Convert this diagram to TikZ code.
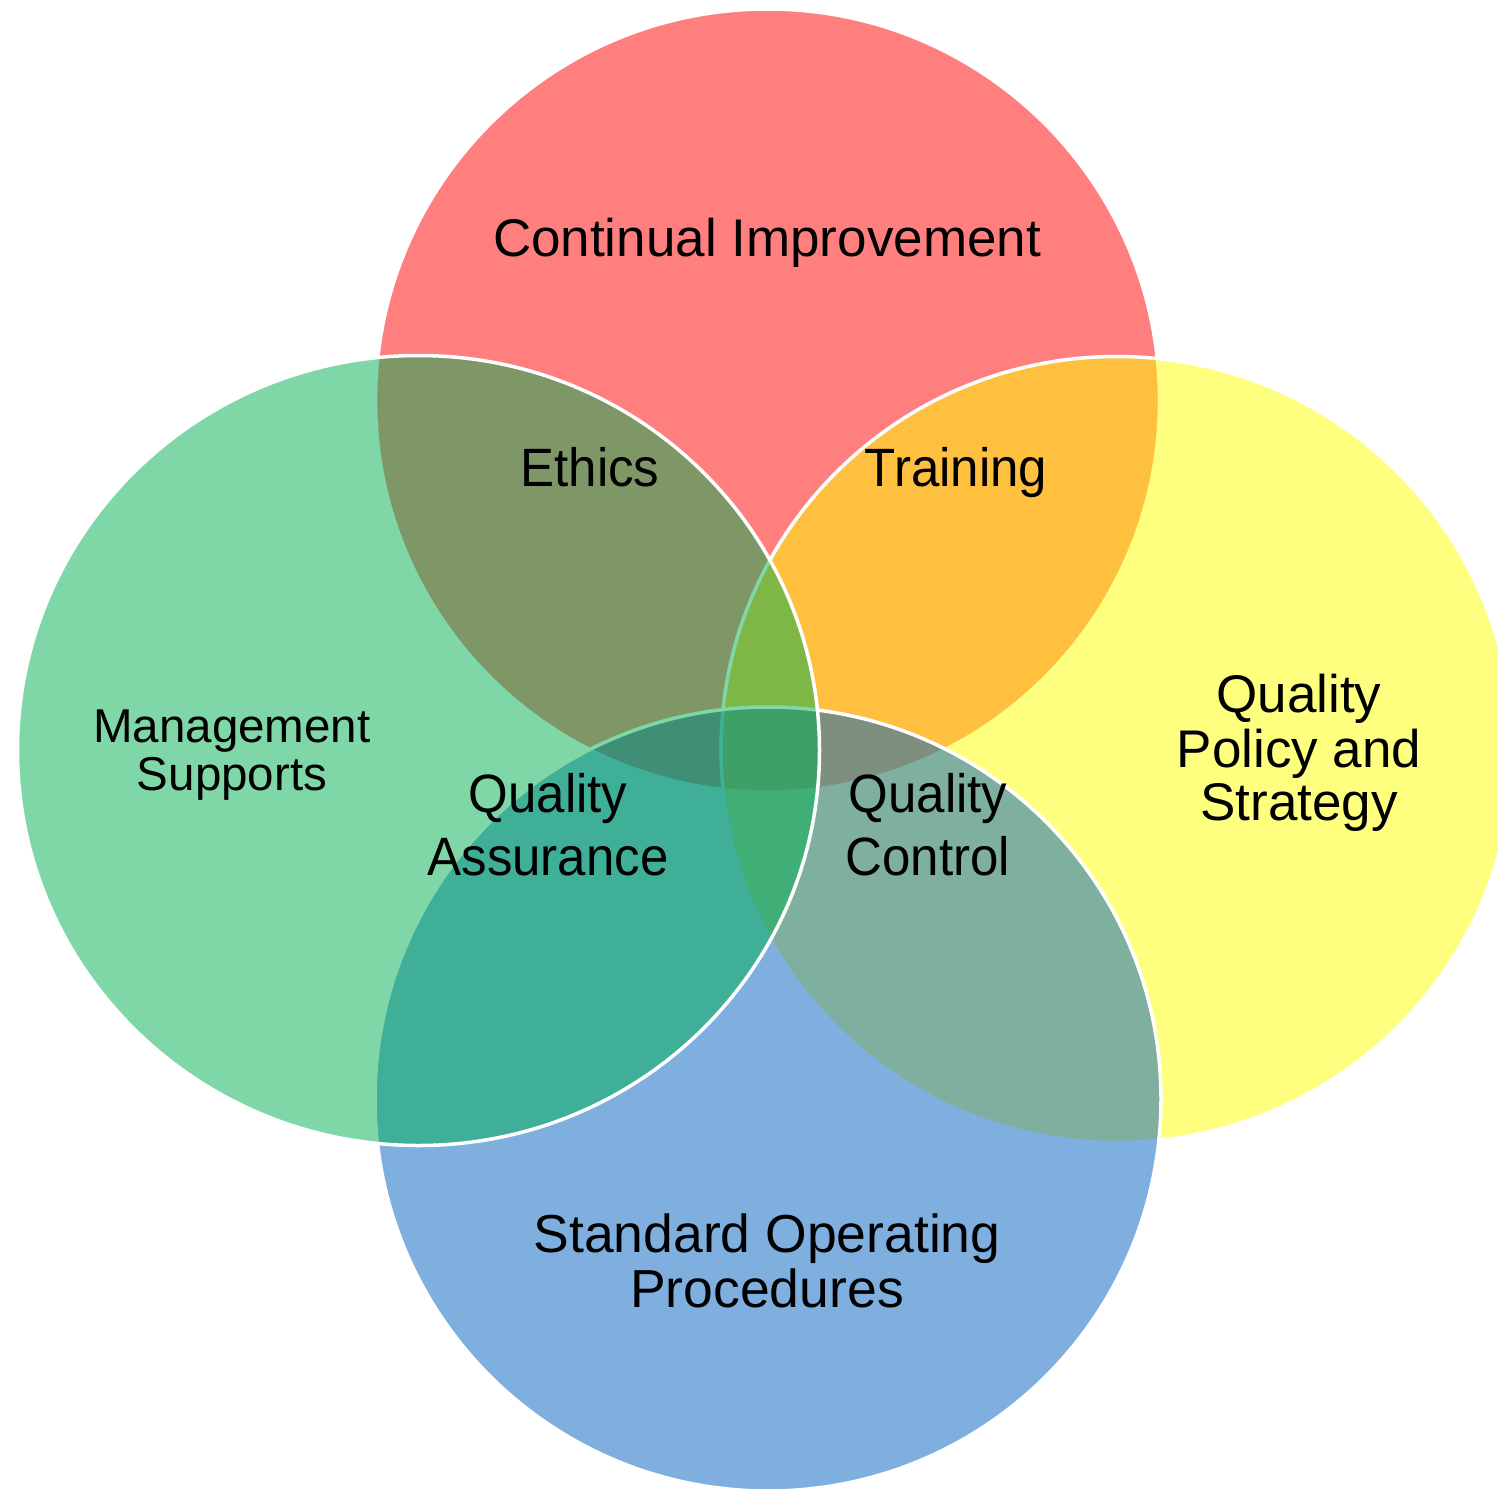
\documentclass[tikz,border=0pt]{standalone}
\usepackage{fontspec}
\setmainfont{Liberation Sans}
\newfontfamily\narrowsans[FakeStretch=0.945]{Liberation Sans}
\definecolor{vred}{RGB}{255,0,0}
\definecolor{vyellow}{RGB}{255,255,0}
\definecolor{vblue}{RGB}{0,96,192}
\definecolor{vgreen}{RGB}{0,176,80}
\begin{document}
\begin{tikzpicture}[x=1pt,y=-1pt,
  venn/.style={fill opacity=0.5, draw=white, line width=3.5pt},
  mainlbl/.style={anchor=base, inner sep=0pt, text=black, font=\fontsize{53pt}{60pt}\selectfont},
  soplbl/.style={anchor=base, inner sep=0pt, text=black, font=\fontsize{53.5pt}{60pt}\selectfont},
  mgmtlbl/.style={anchor=base, inner sep=0pt, text=black, font=\fontsize{47.5pt}{55pt}\selectfont},
  overlbl/.style={anchor=base, inner sep=0pt, text=black, font=\narrowsans\fontsize{54pt}{60pt}\selectfont}]
\useasboundingbox (0,0) rectangle (1498,1488);
\clip (0,0) rectangle (1498,1488);
% circles, in drawing order
\path[venn, fill=vred]    (767.5,400.5) ellipse [x radius=392pt, y radius=391.5pt];
\path[venn, fill=vyellow] (1117,749.5)  ellipse [x radius=396pt, y radius=393pt];
\path[venn, fill=vblue]   (768,1099)    ellipse [x radius=393pt, y radius=392pt];
\path[venn, fill=vgreen]  (418.5,750.5) ellipse [x radius=401pt, y radius=395pt];
% main labels
\node[mainlbl] (cont) at (767,256) {Continual Improvement};
\node[mgmtlbl] (mgmt1) at (232,742) {Management};
\node[mgmtlbl] (mgmt2) at (232,790) {Supports};
\node[mainlbl] (qps1) at (1299,712) {Quality};
\node[mainlbl] (qps2) at (1299,767) {Policy and};
\node[mainlbl] (qps3) at (1299,820) {Strategy};
\node[soplbl] (sop1) at (767,1252) {Standard Operating};
\node[soplbl] (sop2) at (767,1307) {Procedures};
% overlap labels
\node[overlbl] (ethics) at (590,486) {Ethics};
\node[overlbl] (training) at (956,486) {Training};
\node[overlbl] (qa1) at (548,812) {Quality};
\node[overlbl] (qa2) at (548,875) {Assurance};
\node[overlbl] (qc1) at (928,812) {Quality};
\node[overlbl] (qc2) at (928,875) {Control};
\end{tikzpicture}
\end{document}
